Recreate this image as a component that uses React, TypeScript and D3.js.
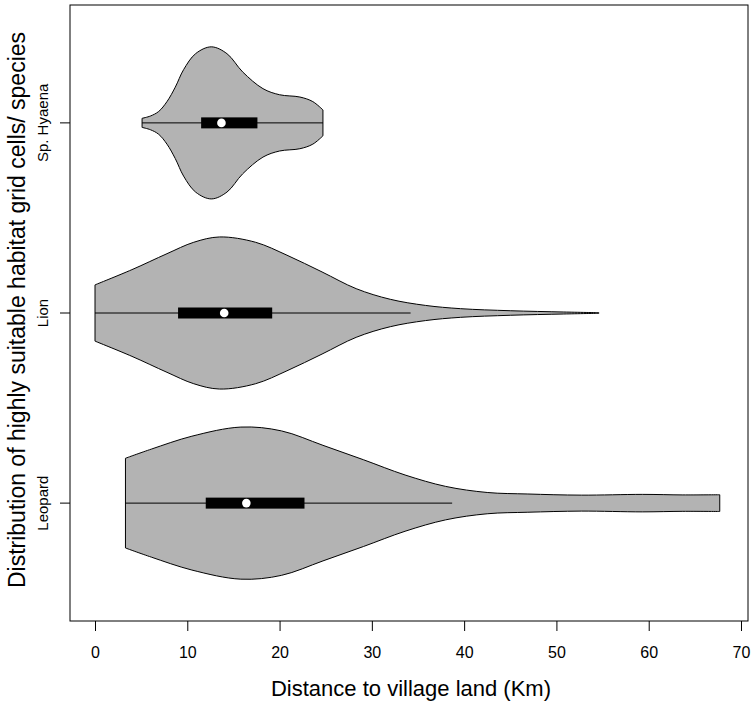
import { useEffect, useRef } from 'react';
import * as d3 from 'd3';

// Horizontal violin plot, R vioplot style
const species = ['Leopard', 'Lion', 'Sp. Hyaena'];

// density outlines (km, relative half-width)
const leopardKm = [3.3, 6.1, 10.5, 15.8, 20.2, 24.7, 29.1, 33.6, 38.0, 42.5, 46.9, 52.7, 59.3, 63.7, 67.7];
const leopardDens = [0.59, 0.71, 0.88, 1.0, 0.95, 0.76, 0.57, 0.37, 0.22, 0.14, 0.12, 0.105, 0.115, 0.108, 0.11];

const lionKm = [0, 4.0, 7.8, 10.7, 13.5, 17.4, 20.8, 24.6, 28.3, 32.0, 35.8, 39.6, 45.0, 50.8, 54.6];
const lionDens = [0.37, 0.57, 0.78, 0.93, 1.0, 0.93, 0.76, 0.54, 0.32, 0.18, 0.1, 0.057, 0.03, 0.013, 0.004];

const hyaenaKm = [5.1, 6.0, 6.9, 7.8, 8.7, 9.6, 10.9, 12.6, 14.3, 16.0, 18.2, 20.0, 22.2, 23.6, 24.7];
const hyaenaDens = [0.06, 0.09, 0.15, 0.28, 0.47, 0.7, 0.91, 1.0, 0.91, 0.67, 0.45, 0.37, 0.34, 0.28, 0.17];

// box stats: Leopard, Lion, Sp. Hyaena
const whiskerLo = [3.3, 0, 5.1];
const q1 = [12.0, 9.0, 11.5];
const median = [16.4, 14.0, 13.7];
const q3 = [22.7, 19.2, 17.6];
const whiskerHi = [38.7, 34.2, 24.7];

const xTicks = [0, 10, 20, 30, 40, 50, 60, 70];

export default function App() {
  const svgRef = useRef<SVGSVGElement | null>(null);

  useEffect(() => {
    document.body.style.margin = '0';
    if (!svgRef.current) return;

    const W = 755;
    const H = 704;
    const left = 70, right = 748, top = 5, bottom = 621;
    const font = "'Liberation Sans', Arial, sans-serif";

    const svg = d3.select(svgRef.current);
    svg.selectAll('*').remove();
    svg.attr('width', W).attr('height', H);

    const x = d3.scaleLinear().domain([-2.71, 70.76]).range([left, right]);
    const y = d3.scaleLinear().domain([0.38, 3.62]).range([bottom, top]);
    const maxHalf = 0.4; // in category units

    const profiles = [
      { km: leopardKm, dens: leopardDens },
      { km: lionKm, dens: lionDens },
      { km: hyaenaKm, dens: hyaenaDens },
    ];

    profiles.forEach((p, i) => {
      const pos = i + 1;
      const pts = p.km.map((k, j) => [k, p.dens[j]] as [number, number]);
      const area = d3.area<[number, number]>()
        .x(d => x(d[0]))
        .y0(d => y(pos - d[1] * maxHalf))
        .y1(d => y(pos + d[1] * maxHalf))
        .curve(d3.curveCatmullRom.alpha(0.5));

      svg.append('path')
        .attr('d', area(pts) as string)
        .attr('fill', '#b3b3b3')
        .attr('stroke', '#000')
        .attr('stroke-width', 1);

      // whisker
      svg.append('line')
        .attr('x1', x(whiskerLo[i]))
        .attr('x2', x(whiskerHi[i]))
        .attr('y1', y(pos))
        .attr('y2', y(pos))
        .attr('stroke', '#000')
        .attr('stroke-width', 1);

      // box
      svg.append('rect')
        .attr('x', x(q1[i]))
        .attr('width', x(q3[i]) - x(q1[i]))
        .attr('y', y(pos) - 5.5)
        .attr('height', 11)
        .attr('fill', '#000');

      // median
      svg.append('circle')
        .attr('cx', x(median[i]))
        .attr('cy', y(pos))
        .attr('r', 4.3)
        .attr('fill', '#fff');
    });

    // frame
    svg.append('rect')
      .attr('x', left)
      .attr('y', top)
      .attr('width', right - left)
      .attr('height', bottom - top)
      .attr('fill', 'none')
      .attr('stroke', '#000')
      .attr('stroke-width', 1);

    // x axis
    svg.append('g')
      .attr('transform', `translate(0, ${bottom})`)
      .call(d3.axisBottom(x).tickValues(xTicks).tickSize(10).tickPadding(16).tickSizeOuter(0))
      .call(g => g.select('.domain').remove())
      .call(g => g.selectAll('line').attr('stroke', '#000'))
      .selectAll('text')
      .attr('fill', '#000')
      .attr('font-size', '16px')
      .attr('font-family', font);

    // y axis ticks and labels
    species.forEach((s, i) => {
      const yy = y(i + 1);
      svg.append('line')
        .attr('x1', left - 10)
        .attr('x2', left)
        .attr('y1', yy)
        .attr('y2', yy)
        .attr('stroke', '#000');
      svg.append('text')
        .attr('transform', `translate(${48}, ${yy}) rotate(-90)`)
        .attr('text-anchor', 'middle')
        .attr('font-size', '15px')
        .attr('font-family', font)
        .text(s);
    });

    // axis titles
    svg.append('text')
      .attr('x', (left + right) / 2 + 2)
      .attr('y', 696)
      .attr('text-anchor', 'middle')
      .attr('font-size', '22px')
      .attr('font-family', font)
      .text('Distance to village land (Km)');

    svg.append('text')
      .attr('transform', `translate(25, ${(top + bottom) / 2 - 3}) rotate(-90)`)
      .attr('text-anchor', 'middle')
      .attr('font-size', '23px')
      .attr('font-family', font)
      .text('Distribution of highly suitable habitat grid cells/ species');
  }, []);

  return <svg ref={svgRef} style={{ display: 'block' }}></svg>;
}
